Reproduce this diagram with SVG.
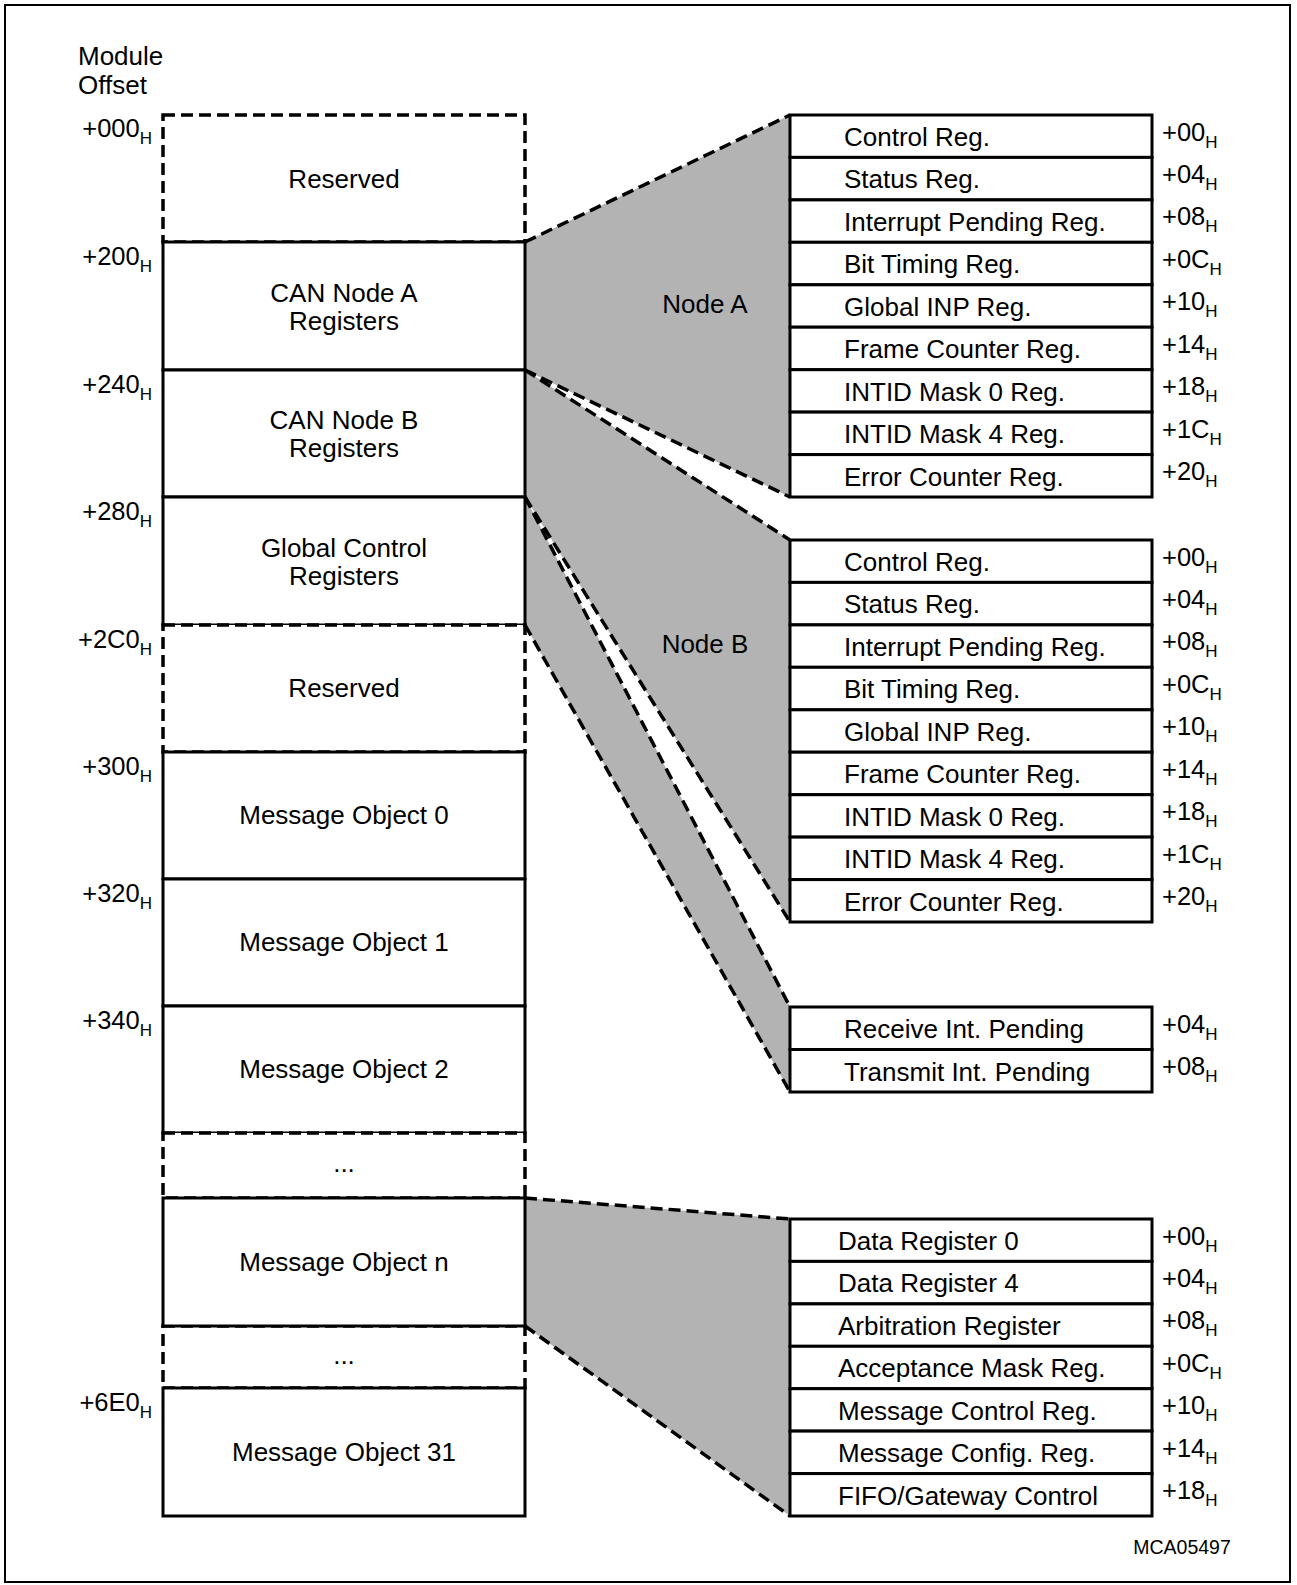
<svg xmlns="http://www.w3.org/2000/svg" width="1297" height="1585" viewBox="0 0 1297 1585">
<style>
text{font-family:"Liberation Sans",Arial,Helvetica,sans-serif;fill:#000}
.t{font-size:26px}
.c{text-anchor:middle}
.o{font-size:25.5px}
.l{font-size:25.5px;text-anchor:end}
.s{font-size:17px}
.box{fill:#fff;stroke:#000;stroke-width:3}
.dbox{fill:#fff;stroke:#000;stroke-width:3.5;stroke-dasharray:12 6}
.fan{fill:#b3b3b3;stroke:none}
.dash{fill:none;stroke:#000;stroke-width:3.5;stroke-dasharray:12 6}
</style>
<rect x="5" y="5" width="1285" height="1577" fill="#fff" stroke="#000" stroke-width="2"/>
<text x="78" y="65" class="t">Module</text>
<text x="78" y="94" class="t">Offset</text>

<g id="fans">
<polygon class="fan" points="525,242 790,115 790,497 525,370"/>
<polygon class="fan" points="525,370 790,540 790,922 525,497"/>
<polygon class="fan" points="525,497 790,1007 790,1092 525,625"/>
<polygon class="fan" points="525,1198 790,1219 790,1516 525,1326"/>
</g>

<g id="module-map">
<g id="reserved-0"><rect class="dbox" x="163" y="115" width="362" height="127"/><text class="t c" x="344" y="188">Reserved</text></g>
<g id="can-node-a"><rect class="box" x="163" y="242" width="362" height="128"/><text class="t c" x="344" y="302">CAN Node A</text><text class="t c" x="344" y="330">Registers</text></g>
<g id="can-node-b"><rect class="box" x="163" y="370" width="362" height="127"/><text class="t c" x="344" y="429">CAN Node B</text><text class="t c" x="344" y="457">Registers</text></g>
<g id="global-control"><rect class="box" x="163" y="497" width="362" height="128"/><text class="t c" x="344" y="557">Global Control</text><text class="t c" x="344" y="585">Registers</text></g>
<g id="reserved-1"><rect class="dbox" x="163" y="625" width="362" height="127"/><text class="t c" x="344" y="697">Reserved</text></g>
<g id="mo-0"><rect class="box" x="163" y="752" width="362" height="127"/><text class="t c" x="344" y="824">Message Object 0</text></g>
<g id="mo-1"><rect class="box" x="163" y="879" width="362" height="127"/><text class="t c" x="344" y="951">Message Object 1</text></g>
<g id="mo-2"><rect class="box" x="163" y="1006" width="362" height="127"/><text class="t c" x="344" y="1078">Message Object 2</text></g>
<g id="dots-0"><rect class="dbox" x="163" y="1133" width="362" height="65"/><text class="t c" x="344" y="1172">...</text></g>
<g id="dots-1"><rect class="dbox" x="163" y="1326" width="362" height="62"/><text class="t c" x="344" y="1364">...</text></g>
<g id="mo-n"><rect class="box" x="163" y="1198" width="362" height="128"/><text class="t c" x="344" y="1271">Message Object n</text></g>
<g id="mo-31"><rect class="box" x="163" y="1388" width="362" height="128"/><text class="t c" x="344" y="1461">Message Object 31</text></g>
</g>

<g id="module-offsets">
<text class="l" x="152" y="137">+000<tspan class="s" dy="7">H</tspan></text>
<text class="l" x="152" y="265">+200<tspan class="s" dy="7">H</tspan></text>
<text class="l" x="152" y="393">+240<tspan class="s" dy="7">H</tspan></text>
<text class="l" x="152" y="520">+280<tspan class="s" dy="7">H</tspan></text>
<text class="l" x="152" y="648">+2C0<tspan class="s" dy="7">H</tspan></text>
<text class="l" x="152" y="775">+300<tspan class="s" dy="7">H</tspan></text>
<text class="l" x="152" y="902">+320<tspan class="s" dy="7">H</tspan></text>
<text class="l" x="152" y="1029">+340<tspan class="s" dy="7">H</tspan></text>
<text class="l" x="152" y="1411">+6E0<tspan class="s" dy="7">H</tspan></text>
</g>

<g id="node-a-regs">
<rect class="box" x="790" y="115" width="362" height="42.4"/>
<rect class="box" x="790" y="157.4" width="362" height="42.5"/>
<rect class="box" x="790" y="199.9" width="362" height="42.4"/>
<rect class="box" x="790" y="242.3" width="362" height="42.5"/>
<rect class="box" x="790" y="284.8" width="362" height="42.4"/>
<rect class="box" x="790" y="327.2" width="362" height="42.5"/>
<rect class="box" x="790" y="369.7" width="362" height="42.4"/>
<rect class="box" x="790" y="412.1" width="362" height="42.5"/>
<rect class="box" x="790" y="454.6" width="362" height="42.4"/>
<text class="t" x="844" y="146">Control Reg.</text>
<text class="t" x="844" y="188.4">Status Reg.</text>
<text class="t" x="844" y="230.9">Interrupt Pending Reg.</text>
<text class="t" x="844" y="273.3">Bit Timing Reg.</text>
<text class="t" x="844" y="315.8">Global INP Reg.</text>
<text class="t" x="844" y="358.2">Frame Counter Reg.</text>
<text class="t" x="844" y="400.7">INTID Mask 0 Reg.</text>
<text class="t" x="844" y="443.1">INTID Mask 4 Reg.</text>
<text class="t" x="844" y="485.6">Error Counter Reg.</text>
<text class="o" x="1162" y="140.5">+00<tspan class="s" dy="7">H</tspan></text>
<text class="o" x="1162" y="182.9">+04<tspan class="s" dy="7">H</tspan></text>
<text class="o" x="1162" y="225.4">+08<tspan class="s" dy="7">H</tspan></text>
<text class="o" x="1162" y="267.8">+0C<tspan class="s" dy="7">H</tspan></text>
<text class="o" x="1162" y="310.3">+10<tspan class="s" dy="7">H</tspan></text>
<text class="o" x="1162" y="352.7">+14<tspan class="s" dy="7">H</tspan></text>
<text class="o" x="1162" y="395.2">+18<tspan class="s" dy="7">H</tspan></text>
<text class="o" x="1162" y="437.6">+1C<tspan class="s" dy="7">H</tspan></text>
<text class="o" x="1162" y="480.1">+20<tspan class="s" dy="7">H</tspan></text>
</g>

<g id="node-b-regs">
<rect class="box" x="790" y="540" width="362" height="42.4"/>
<rect class="box" x="790" y="582.4" width="362" height="42.5"/>
<rect class="box" x="790" y="624.9" width="362" height="42.4"/>
<rect class="box" x="790" y="667.3" width="362" height="42.5"/>
<rect class="box" x="790" y="709.8" width="362" height="42.4"/>
<rect class="box" x="790" y="752.2" width="362" height="42.5"/>
<rect class="box" x="790" y="794.7" width="362" height="42.4"/>
<rect class="box" x="790" y="837.1" width="362" height="42.5"/>
<rect class="box" x="790" y="879.6" width="362" height="42.4"/>
<text class="t" x="844" y="571">Control Reg.</text>
<text class="t" x="844" y="613.4">Status Reg.</text>
<text class="t" x="844" y="655.9">Interrupt Pending Reg.</text>
<text class="t" x="844" y="698.3">Bit Timing Reg.</text>
<text class="t" x="844" y="740.8">Global INP Reg.</text>
<text class="t" x="844" y="783.2">Frame Counter Reg.</text>
<text class="t" x="844" y="825.7">INTID Mask 0 Reg.</text>
<text class="t" x="844" y="868.1">INTID Mask 4 Reg.</text>
<text class="t" x="844" y="910.6">Error Counter Reg.</text>
<text class="o" x="1162" y="565.5">+00<tspan class="s" dy="7">H</tspan></text>
<text class="o" x="1162" y="607.9">+04<tspan class="s" dy="7">H</tspan></text>
<text class="o" x="1162" y="650.4">+08<tspan class="s" dy="7">H</tspan></text>
<text class="o" x="1162" y="692.8">+0C<tspan class="s" dy="7">H</tspan></text>
<text class="o" x="1162" y="735.3">+10<tspan class="s" dy="7">H</tspan></text>
<text class="o" x="1162" y="777.7">+14<tspan class="s" dy="7">H</tspan></text>
<text class="o" x="1162" y="820.2">+18<tspan class="s" dy="7">H</tspan></text>
<text class="o" x="1162" y="862.6">+1C<tspan class="s" dy="7">H</tspan></text>
<text class="o" x="1162" y="905.1">+20<tspan class="s" dy="7">H</tspan></text>
</g>

<g id="global-regs">
<rect class="box" x="790" y="1007" width="362" height="42.5"/>
<rect class="box" x="790" y="1049.5" width="362" height="42.5"/>
<text class="t" x="844" y="1038">Receive Int. Pending</text>
<text class="t" x="844" y="1080.5">Transmit Int. Pending</text>
<text class="o" x="1162" y="1032.5">+04<tspan class="s" dy="7">H</tspan></text>
<text class="o" x="1162" y="1075">+08<tspan class="s" dy="7">H</tspan></text>
</g>

<g id="mo-regs">
<rect class="box" x="790" y="1219" width="362" height="42.4"/>
<rect class="box" x="790" y="1261.4" width="362" height="42.5"/>
<rect class="box" x="790" y="1303.9" width="362" height="42.4"/>
<rect class="box" x="790" y="1346.3" width="362" height="42.4"/>
<rect class="box" x="790" y="1388.7" width="362" height="42.4"/>
<rect class="box" x="790" y="1431.1" width="362" height="42.5"/>
<rect class="box" x="790" y="1473.6" width="362" height="42.4"/>
<text class="t" x="838" y="1250">Data Register 0</text>
<text class="t" x="838" y="1292.4">Data Register 4</text>
<text class="t" x="838" y="1334.9">Arbitration Register</text>
<text class="t" x="838" y="1377.3">Acceptance Mask Reg.</text>
<text class="t" x="838" y="1419.7">Message Control Reg.</text>
<text class="t" x="838" y="1462.1">Message Config. Reg.</text>
<text class="t" x="838" y="1504.6">FIFO/Gateway Control</text>
<text class="o" x="1162" y="1244.5">+00<tspan class="s" dy="7">H</tspan></text>
<text class="o" x="1162" y="1286.9">+04<tspan class="s" dy="7">H</tspan></text>
<text class="o" x="1162" y="1329.4">+08<tspan class="s" dy="7">H</tspan></text>
<text class="o" x="1162" y="1371.8">+0C<tspan class="s" dy="7">H</tspan></text>
<text class="o" x="1162" y="1414.2">+10<tspan class="s" dy="7">H</tspan></text>
<text class="o" x="1162" y="1456.6">+14<tspan class="s" dy="7">H</tspan></text>
<text class="o" x="1162" y="1499.1">+18<tspan class="s" dy="7">H</tspan></text>
</g>

<g id="connectors">
<line class="dash" x1="525" y1="242" x2="790" y2="115"/>
<line class="dash" x1="525" y1="370" x2="790" y2="497"/>
<line class="dash" x1="525" y1="370" x2="790" y2="540"/>
<line class="dash" x1="525" y1="497" x2="790" y2="922"/>
<line class="dash" x1="525" y1="497" x2="790" y2="1007"/>
<line class="dash" x1="525" y1="625" x2="790" y2="1092"/>
<line class="dash" x1="525" y1="1198" x2="790" y2="1219"/>
<line class="dash" x1="525" y1="1326" x2="790" y2="1516"/>
</g>

<text class="t c" x="705" y="313">Node A</text>
<text class="t c" x="705" y="653">Node B</text>
<text x="1182" y="1554" font-size="19.5" text-anchor="middle">MCA05497</text>
</svg>
